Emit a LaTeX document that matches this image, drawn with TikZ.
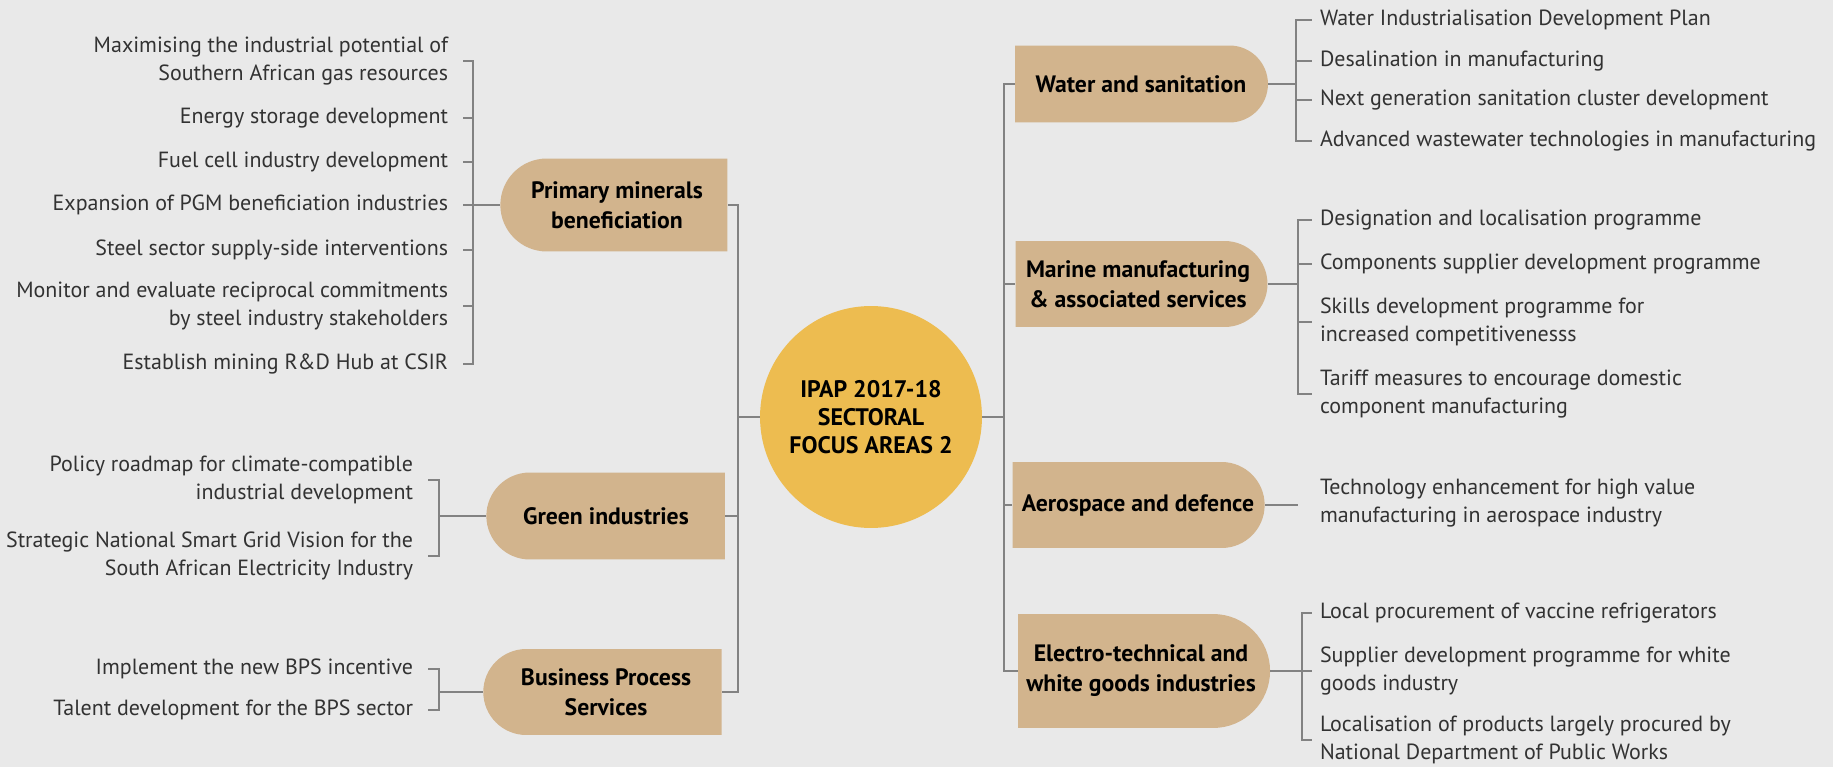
\documentclass[tikz,border=0pt]{standalone}
\usepackage{fontspec}
\setmainfont{PT Sans}
\usepackage{xcolor}
\usepackage{tikz}
\usetikzlibrary{shapes.misc}
\usetikzlibrary{calc}

\definecolor{bggray}{RGB}{233,233,233}
\definecolor{boxtan}{RGB}{210,180,141}
\definecolor{hubgold}{RGB}{237,188,80}
\definecolor{linegray}{RGB}{130,130,130}
\definecolor{txtgray}{RGB}{50,50,50}

\tikzset{
  conn/.style={draw=linegray, line width=1pt},
  itemtxt/.style={inner sep=0pt, text=txtgray, font=\fontsize{12.5}{16}\selectfont},
  litem/.style={itemtxt, anchor=east, align=right, outer xsep=0.3cm},
  ritem/.style={itemtxt, anchor=west, align=left, outer xsep=0.16cm},
  sector/.style={rounded rectangle, fill=boxtan, align=center, inner sep=2pt,
    text=black, font=\fontsize{13.5}{17}\selectfont\bfseries},
  lbox/.style={sector, rounded rectangle east arc=none},
  rbox/.style={sector, rounded rectangle west arc=none},
  hubnode/.style={circle, fill=hubgold, minimum size=4.44cm, inner sep=0pt, align=center,
    text=black, font=\fontsize{13.6}{16}\selectfont\bfseries}
}

\begin{document}
\begin{tikzpicture}[x=0.02cm,y=-0.02cm]
 	\fill[bggray] (0,0) rectangle (1833,767);

 	\node[hubnode] (hub) at (871,417) {IPAP 2017-18\\SECTORAL\\FOCUS AREAS 2};

 	\node[lbox, minimum width=4.68cm, minimum height=1.86cm] (prim) at (617,205) {Primary minerals\\beneficiation};
 	\node[lbox, minimum width=4.91cm, minimum height=1.74cm] (green) at (606,516) {Green industries};
 	\node[lbox, minimum width=4.91cm, minimum height=1.72cm] (bps) at (606,692) {Business Process\\Services};

 	\node[rbox, minimum width=5.20cm, minimum height=1.54cm] (water) at (1141,84) {Water and sanitation};
 	\node[rbox, minimum width=5.18cm, minimum height=1.72cm] (marine) at (1138,284) {Marine manufacturing\\\& associated services};
 	\node[rbox, minimum width=5.18cm, minimum height=1.72cm] (aero) at (1138,505) {Aerospace and defence};
 	\node[rbox, minimum width=5.18cm, minimum height=2.28cm] (elec) at (1141,671) {Electro-technical and\\white goods industries};

 	\coordinate (lt) at (738,417);
 	\coordinate (rt) at (1004,417);
 	\coordinate (ph) at (473,205);
 	\coordinate (gh) at (439,516);
 	\coordinate (bh) at (439,692);
 	\coordinate (wh) at (1296,84);
 	\coordinate (mh) at (1298,284);
 	\coordinate (ah) at (1298,505);
 	\coordinate (eh) at (1302,671);

 	\node[litem] (p1) at (463,61) {Maximising the industrial potential of\\Southern African gas resources};
 	\node[litem] (p2) at (463,118) {Energy storage development};
 	\node[litem] (p3) at (463,162) {Fuel cell industry development};
 	\node[litem] (p4) at (463,205) {Expansion of PGM beneficiation industries};
 	\node[litem] (p5) at (463,250) {Steel sector supply-side interventions};
 	\node[litem] (p6) at (463,306) {Monitor and evaluate reciprocal commitments\\by steel industry stakeholders};
 	\node[litem] (p7) at (463,364) {Establish mining R\&D Hub at CSIR};

 	\node[litem] (g1) at (428,480) {Policy roadmap for climate-compatible\\industrial development};
 	\node[litem] (g2) at (428,556) {Strategic National Smart Grid Vision for the\\South African Electricity Industry};

 	\node[litem] (b1) at (428,669) {Implement the new BPS incentive};
 	\node[litem] (b2) at (428,710) {Talent development for the BPS sector};

 	\node[ritem] (w1) at (1312,20) {Water Industrialisation Development Plan};
 	\node[ritem] (w2) at (1312,61) {Desalination in manufacturing};
 	\node[ritem] (w3) at (1312,100) {Next generation sanitation cluster development};
 	\node[ritem] (w4) at (1312,141) {Advanced wastewater technologies in manufacturing};

 	\node[ritem] (m1) at (1312,220) {Designation and localisation programme};
 	\node[ritem] (m2) at (1312,264) {Components supplier development programme};
 	\node[ritem] (m3) at (1312,322) {Skills development programme for\\increased competitivenesss};
 	\node[ritem] (m4) at (1312,394) {Tariff measures to encourage domestic\\component manufacturing};

 	\node[ritem] (a1) at (1312,503) {Technology enhancement for high value\\manufacturing in aerospace industry};

 	\node[ritem] (e1) at (1312,613) {Local procurement of vaccine refrigerators};
 	\node[ritem] (e2) at (1312,671) {Supplier development programme for white\\goods industry};
 	\node[ritem] (e3) at (1312,740) {Localisation of products largely procured by\\National Department of Public Works};

 	\draw[conn] (hub) -- (lt);
 	\draw[conn] (hub) -- (rt);
 	\draw[conn] (lt) |- (prim.east) (lt) |- (green.east) (lt) |- (bps.east);
 	\draw[conn] (rt) |- (water.west) (rt) |- (marine.west) (rt) |- (aero.west) (rt) |- (elec.west);

 	\draw[conn] (prim.west) -- (ph);
 	\draw[conn] (ph) |- (p1.east) (ph) |- (p2.east) (ph) |- (p3.east) (ph) |- (p4.east) (ph) |- (p5.east) (ph) |- (p6.east) (ph) |- (p7.east);
 	\draw[conn] (green.west) -- (gh);
 	\draw[conn] (gh) |- (g1.east) (gh) |- (g2.east);
 	\draw[conn] (bps.west) -- (bh);
 	\draw[conn] (bh) |- (b1.east) (bh) |- (b2.east);

 	\draw[conn] (water.east) -- (wh);
 	\draw[conn] (wh) |- (w1.west) (wh) |- (w2.west) (wh) |- (w3.west) (wh) |- (w4.west);
 	\draw[conn] (marine.east) -- (mh);
 	\draw[conn] (mh) |- (m1.west) (mh) |- (m2.west) (mh) |- (m3.west) (mh) |- (m4.west);
 	\draw[conn] (aero.east) -- (ah);
 	\draw[conn] (elec.east) -- (eh);
 	\draw[conn] (eh) |- (e1.west) (eh) |- (e2.west) (eh) |- (e3.west);
\end{tikzpicture}
\end{document}
